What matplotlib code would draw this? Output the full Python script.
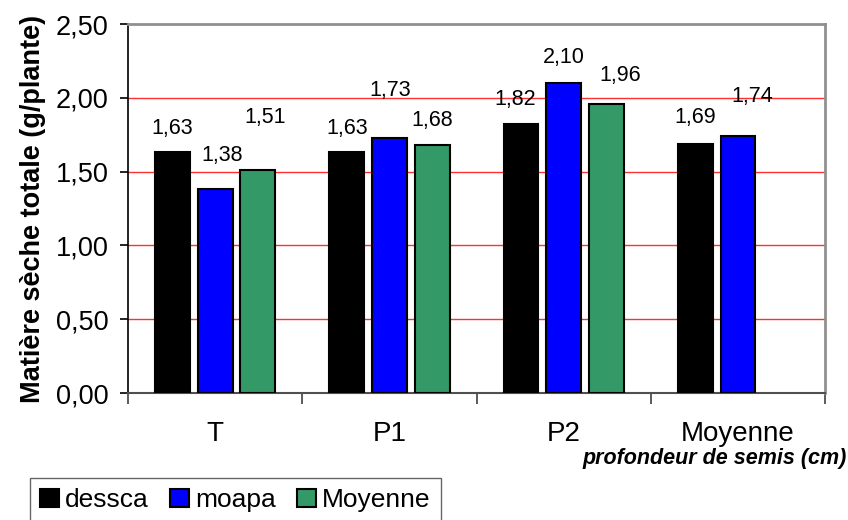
import numpy as np
import matplotlib.pyplot as plt
from matplotlib.patches import Patch

plt.rcParams['font.family'] = ['Liberation Sans', 'DejaVu Sans']

categories = ['T', 'P1', 'P2', 'Moyenne']
dessca = [1.63, 1.63, 1.82, 1.69]
moapa = [1.38, 1.73, 2.10, 1.74]
moyenne = [1.51, 1.68, 1.96, np.nan]
series_names = ['dessca', 'moapa', 'Moyenne']

# label offsets (pixels) : horizontal shift, height above bar top
label_dx = [[0, 7, 7], [0, 1, 0], [-6, 0, 14], [0, 14, 0]]
label_dy = [[24, 34, 53], [24, 47, 25], [25, 26, 28], [26, 40, 0]]


def main():
    fig = plt.figure(figsize=(8.48, 5.2), dpi=100)
    ax = fig.add_axes([0.151, 0.2442, 0.822, 0.7096])

    x = np.arange(len(categories))
    colors = ['#000000', '#0000FF', '#339966']
    width = 0.2
    step = 0.245
    for i, (vals, col) in enumerate(zip([dessca, moapa, moyenne], colors)):
        pos = x + (i - 1) * step
        ax.bar(pos, vals, width, color=col, edgecolor='black', linewidth=1.5, zorder=3)
        for j, v in enumerate(vals):
            if np.isnan(v):
                continue
            ax.annotate(f'{v:.2f}'.replace('.', ','), (pos[j], v),
                        xytext=(label_dx[j][i], label_dy[j][i]),
                        textcoords='offset pixels', ha='center', va='center',
                        fontsize=15.5)

    ax.set_xlim(-0.5, 3.5)
    ax.set_ylim(0, 2.5)
    yt = np.arange(0, 2.51, 0.5)
    ax.set_yticks(yt)
    ax.set_yticklabels([f'{t:.2f}'.replace('.', ',') for t in yt], fontsize=19.5)
    for t in yt[1:-1]:
        ax.axhline(t, color='#FF3030', linewidth=1.0, zorder=1)

    ax.set_xticks(x)
    ax.set_xticklabels(categories, fontsize=20)
    ax.set_xticks(np.arange(-0.5, 3.6, 1), minor=True)
    ax.tick_params(axis='x', which='major', length=0, pad=20)
    ax.tick_params(axis='x', which='minor', length=8, width=1.2, color='#404040')
    ax.tick_params(axis='y', length=6, width=1.2, direction='out', pad=8)

    ax.spines['left'].set_color('black')
    ax.spines['left'].set_linewidth(1.2)
    ax.spines['bottom'].set_color('#505050')
    ax.spines['bottom'].set_linewidth(1.5)
    for s in ['top', 'right']:
        ax.spines[s].set_color('#909090')
        ax.spines[s].set_linewidth(2)

    ax.set_ylabel('Matière sèche totale (g/plante)', fontsize=19.5, fontweight='bold', labelpad=7)
    fig.text(0.998, 0.118, 'profondeur de semis (cm)', ha='right', va='center',
             fontsize=15.5, fontweight='bold', fontstyle='italic')

    handles = [Patch(facecolor=c, edgecolor='black', linewidth=1.5) for c in colors]
    leg = fig.legend(handles, series_names, loc='upper left', bbox_to_anchor=(0.035, 0.081),
                     borderaxespad=0, ncol=3, fontsize=19, frameon=True, fancybox=False,
                     handlelength=0.7, handleheight=0.7, handletextpad=0.25,
                     columnspacing=0.8, borderpad=0.4, edgecolor='#404040')
    leg.get_frame().set_linewidth(1.0)

    fig.savefig('out.png', dpi=100)


if __name__ == '__main__':
    main()
